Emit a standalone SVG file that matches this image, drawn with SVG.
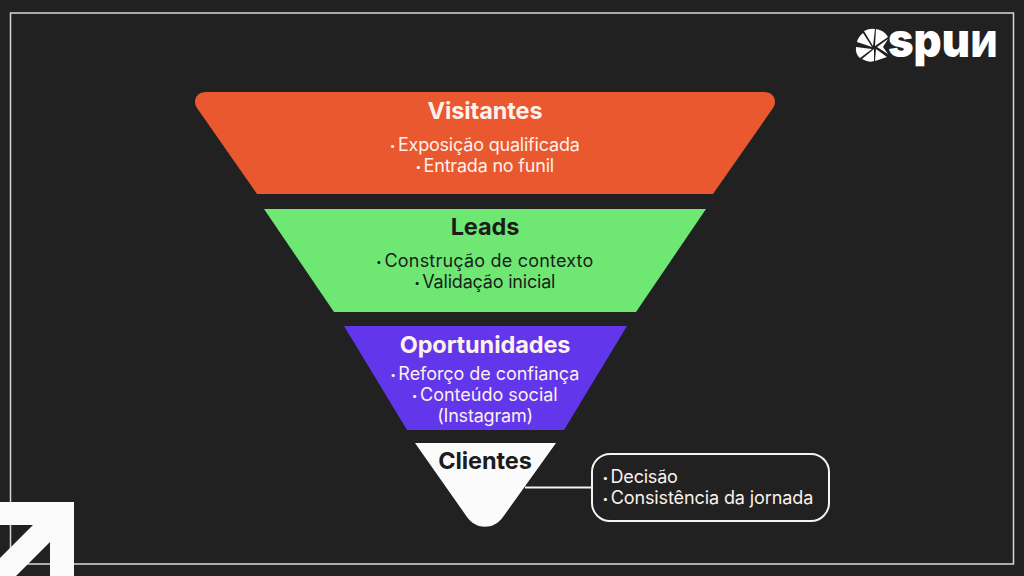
<svg xmlns="http://www.w3.org/2000/svg" width="1024" height="576" viewBox="0 0 1024 576">
<style>
.t{font-family:"Inter","Liberation Sans",sans-serif;text-anchor:middle}
.s{font-family:"Inter","Liberation Sans",sans-serif}
.h{font-size:23.500px;font-weight:700;letter-spacing:-.1px}
.b{font-size:18px;font-weight:400;letter-spacing:-.2px}
.d{font-size:10px;font-weight:700}
.w{fill:#fdf1ea}
.k{fill:#1c1c1c}
</style>
<rect width="1024" height="576" fill="#212121"/>
<rect x="10.500" y="13" width="1003" height="551" fill="none" stroke="#d8d8d8" stroke-width="1.500"/>
<g id="logo" fill="#fff">
<path d="M873 46 L864 31 Q870 28 875 29 Z M875 46 L876 29 Q884 30 888 37 Z M872 47 L857 42 Q858 37 863 33 Z M872 49 L856 47 Q855 54 860 58 Z M874 49 L862 59 Q869 63 874 61 Z M876 49 L887 57 L875 61 Z M877 47 L888 39 L883 47 L888 54 Z"/>
<text class="s" x="888" y="57" font-size="47" font-weight="900" textLength="82" lengthAdjust="spacingAndGlyphs">spu</text>
<text class="s" x="971" y="57" font-size="36" font-weight="900" textLength="26" lengthAdjust="spacingAndGlyphs" transform="matrix(-1 0 0 1 1968 0)">N</text>
</g>
<g id="arrow"><path fill="#fbfbfb" d="M0 502H74V576H50V542L16 576H0V558L33 525H0Z"/></g>
<g id="connectors"><path d="M525 487.500H592" fill="none" stroke="#f4f4f4" stroke-width="2.200"/></g>
<g id="visitantes">
<path fill="#e9582e" d="M206 92H764C773 92 778 100 773 108L713 194H257L197 108C192 100 197 92 206 92Z"/>
<text class="t h w" x="485" y="118.500">Visitantes</text>
<text class="t b w" x="485" y="151"><tspan class="d" dy="-2">•</tspan><tspan dx="3" dy="2">Exposição qualificada</tspan></text>
<text class="t b w" x="485" y="172"><tspan class="d" dy="-2">•</tspan><tspan dx="3" dy="2">Entrada no funil</tspan></text>
</g>
<g id="leads">
<path fill="#6ee873" d="M264 209H706L636 312H334Z"/>
<text class="t h k" x="485" y="234.500">Leads</text>
<text class="t b k" x="485" y="267" style="letter-spacing:.2px"><tspan class="d" dy="-2">•</tspan><tspan dx="3" dy="2">Construção de contexto</tspan></text>
<text class="t b k" x="485" y="288"><tspan class="d" dy="-2">•</tspan><tspan dx="3" dy="2">Validação inicial</tspan></text>
</g>
<g id="oportunidades">
<path fill="#6236ea" d="M344 326H627L564 430H407Z"/>
<text class="t h w" x="485" y="353">Oportunidades</text>
<text class="t b w" x="485" y="380" style="letter-spacing:-.05px"><tspan class="d" dy="-2">•</tspan><tspan dx="3" dy="2">Reforço de confiança</tspan></text>
<text class="t b w" x="485" y="401" style="letter-spacing:0"><tspan class="d" dy="-2">•</tspan><tspan dx="3" dy="2">Conteúdo social</tspan></text>
<text class="t b w" x="485" y="422">(Instagram)</text>
</g>
<g id="clientes">
<path fill="#fbfbfb" d="M415 443H556L503 517C494 530 476 530 467 517Z"/>
<text class="t h k" x="485" y="468.500">Clientes</text>
</g>
<g id="detalhes">
<rect x="592" y="454" width="237" height="67" rx="18" fill="#212121" stroke="#f4f4f4" stroke-width="2"/>
<text class="s b w" x="603" y="483"><tspan class="d" dy="-2">•</tspan><tspan dx="3" dy="2">Decisão</tspan></text>
<text class="s b w" x="603" y="504" style="letter-spacing:-.1px"><tspan class="d" dy="-2">•</tspan><tspan dx="3" dy="2">Consistência da jornada</tspan></text>
</g>
</svg>
